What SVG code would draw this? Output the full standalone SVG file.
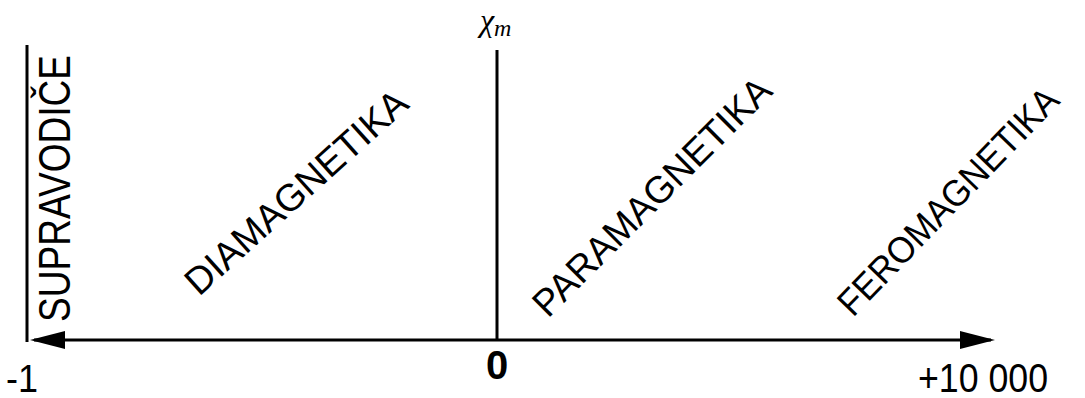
<svg xmlns="http://www.w3.org/2000/svg" width="1085" height="398" viewBox="0 0 1085 398">
<style>
.t{font-family:"Liberation Sans",Arial,sans-serif;fill:#000}
.ax{stroke:#000;stroke-width:3;fill:none}
</style>
<defs>
<marker id="ah" markerUnits="userSpaceOnUse" markerWidth="40" markerHeight="22" viewBox="-36 -11 40 22" refX="-4" refY="0" orient="auto-start-reverse">
<path d="M0,0 L-35,-9 L-35,9 Z" fill="#000"/>
</marker>
</defs>
<g id="connectors">
<line class="ax" x1="27" y1="45" x2="27" y2="342"/>
<line class="ax" x1="497" y1="50" x2="497" y2="340"/>
<line class="ax" x1="34" y1="340" x2="991" y2="340" marker-start="url(#ah)" marker-end="url(#ah)"/>
</g>
<g id="axis-label">
<text x="480" y="31" font-family="Liberation Serif,serif" font-style="italic" font-size="32">χ<tspan font-size="24" dy="5">m</tspan></text>
</g>
<g id="tick-minus1"><text class="t" x="6" y="392" font-size="39" textLength="32" lengthAdjust="spacingAndGlyphs">-1</text></g>
<g id="tick-zero"><text class="t" x="497" y="379" font-size="40" font-weight="bold" text-anchor="middle">0</text></g>
<g id="tick-max"><text class="t" x="918" y="392" font-size="40" textLength="130" lengthAdjust="spacingAndGlyphs">+10 000</text></g>
<g id="supravodice"><text class="t" transform="translate(70,322) rotate(-90)" font-size="44" textLength="267" lengthAdjust="spacingAndGlyphs">SUPRAVODIČE</text></g>
<g id="diamagnetika"><text class="t" transform="translate(199,297) rotate(-42)" font-size="38" textLength="285" lengthAdjust="spacingAndGlyphs">DIAMAGNETIKA</text></g>
<g id="paramagnetika"><text class="t" transform="translate(548,319) rotate(-45)" font-size="38" textLength="320" lengthAdjust="spacingAndGlyphs">PARAMAGNETIKA</text></g>
<g id="feromagnetika"><text class="t" transform="translate(853,318) rotate(-46)" font-size="37" textLength="300" lengthAdjust="spacingAndGlyphs">FEROMAGNETIKA</text></g>
</svg>
